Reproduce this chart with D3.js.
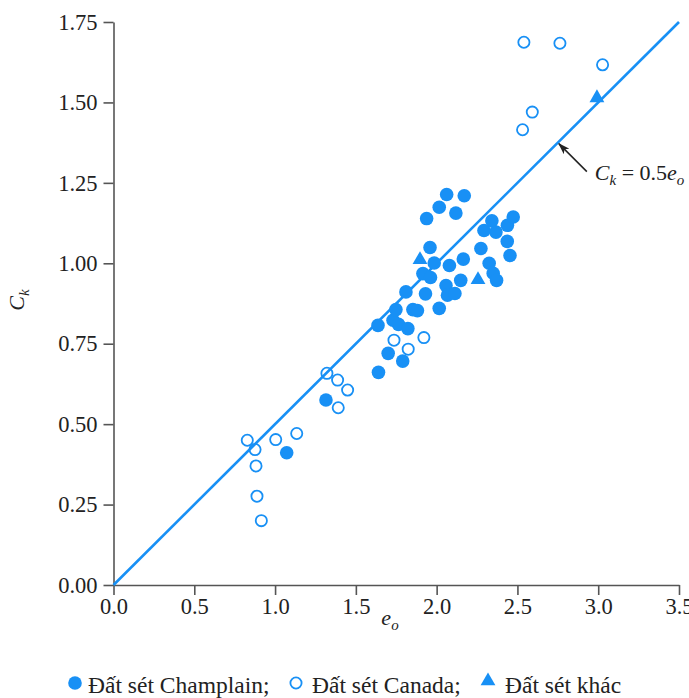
<!DOCTYPE html>
<html>
<head>
<meta charset="utf-8">
<script src="https://cdn.jsdelivr.net/npm/d3@7"></script>
<style>
  html, body { margin: 0; padding: 0; background: #fff; }
  svg { display: block; }
  text { font-family: "Liberation Serif", "Times New Roman", serif; fill: #222; }
</style>
</head>
<body>
<svg id="chart" width="689" height="698"></svg>
<script>
// Compression index Ck against initial void ratio eo
const champlain = [
  [1.072, 0.411], [1.315, 0.575], [1.640, 0.661], [1.700, 0.720], [1.790, 0.696],
  [1.637, 0.807], [1.730, 0.823], [1.764, 0.810], [1.822, 0.797], [1.748, 0.856],
  [1.853, 0.856], [1.881, 0.853], [2.016, 0.860], [1.810, 0.911], [1.931, 0.905],
  [2.058, 0.931], [2.067, 0.901], [2.113, 0.906], [2.149, 0.947], [1.915, 0.968],
  [1.962, 0.956], [1.985, 1.001], [2.079, 0.993], [2.165, 1.013], [1.959, 1.049],
  [1.938, 1.139], [2.016, 1.174], [2.119, 1.156], [2.062, 1.214], [2.171, 1.210],
  [2.274, 1.046], [2.293, 1.102], [2.342, 1.132], [2.367, 1.097], [2.438, 1.118],
  [2.474, 1.144], [2.437, 1.068], [2.454, 1.024], [2.325, 1.000], [2.350, 0.969],
  [2.371, 0.947]
];
const canada = [
  [2.540, 1.687], [2.763, 1.684], [3.027, 1.617], [2.592, 1.470], [2.532, 1.415],
  [1.321, 0.658], [1.387, 0.637], [1.449, 0.606], [1.391, 0.551], [0.828, 0.450],
  [0.876, 0.421], [1.004, 0.452], [1.134, 0.471], [0.882, 0.370], [0.888, 0.276],
  [0.915, 0.200], [1.736, 0.761], [1.824, 0.733], [1.921, 0.769]
];
const otherClays = [[1.897, 1.011], [2.256, 0.949], [2.992, 1.514]];

// Reference relation Ck = 0.5 eo
const slope = 0.5;
const lineEo = [0, 3.5];
const labelEo = 2.75;

const xTicks = [0, 0.5, 1.0, 1.5, 2.0, 2.5, 3.0, 3.5];
const yTicks = [0, 0.25, 0.5, 0.75, 1.0, 1.25, 1.5, 1.75];
const legendLabels = ["Đất sét Champlain;", "Đất sét Canada;", "Đất sét khác"];

const blue = "#1890f5";
const axisColor = "#555";

const svg = d3.select("#chart");
const x = d3.scaleLinear().domain([0, 3.5]).range([113.5, 679]);
const y = d3.scaleLinear().domain([0, 1.75]).range([585, 22]);

// Axes
const xAxis = svg.append("g")
  .attr("transform", `translate(0,${y(0)})`)
  .call(d3.axisBottom(x).tickValues(xTicks).tickFormat(d3.format(".1f"))
    .tickSize(10).tickSizeOuter(0).tickPadding(3));
const yAxis = svg.append("g")
  .attr("transform", `translate(${x(0)},0)`)
  .call(d3.axisLeft(y).tickValues(yTicks).tickFormat(d3.format(".2f"))
    .tickSize(10).tickSizeOuter(0).tickPadding(6));
[xAxis, yAxis].forEach(g => {
  g.select(".domain").attr("stroke", axisColor).attr("stroke-width", 1.6);
  g.selectAll(".tick line").attr("stroke", axisColor).attr("stroke-width", 1.6);
  g.selectAll(".tick text")
    .style("font-family", '"Liberation Serif", serif')
    .style("font-size", "22.5px").attr("fill", "#222");
});

// Axis titles
svg.append("text")
  .attr("x", 390).attr("y", 625)
  .attr("text-anchor", "middle")
  .style("font-size", "22px").style("font-style", "italic")
  .call(t => {
    t.append("tspan").text("e");
    t.append("tspan").attr("dy", 5).style("font-size", "15px").text("o");
  });
svg.append("text")
  .attr("transform", "translate(24,300) rotate(-90)")
  .attr("text-anchor", "middle")
  .style("font-size", "22px").style("font-style", "italic")
  .call(t => {
    t.append("tspan").text("C");
    t.append("tspan").attr("dy", 5).style("font-size", "15px").text("k");
  });

// Reference line
svg.append("line")
  .attr("x1", x(lineEo[0])).attr("y1", y(slope * lineEo[0]))
  .attr("x2", x(lineEo[1])).attr("y2", y(slope * lineEo[1]))
  .attr("stroke", blue).attr("stroke-width", 2.6);

// Points
const triPath = d3.symbol().type(d3.symbolTriangle).size(95);

svg.append("g").selectAll("circle").data(champlain).join("circle")
  .attr("cx", d => x(d[0])).attr("cy", d => y(d[1]))
  .attr("r", 6.8).attr("fill", blue);

svg.append("g").selectAll("circle").data(canada).join("circle")
  .attr("cx", d => x(d[0])).attr("cy", d => y(d[1]))
  .attr("r", 5.6).attr("fill", "none").attr("stroke", blue).attr("stroke-width", 1.8);

svg.append("g").selectAll("path").data(otherClays).join("path")
  .attr("transform", d => `translate(${x(d[0])},${y(d[1])})`)
  .attr("d", triPath).attr("fill", blue);

// Annotation arrow for the reference line
svg.append("defs").append("marker")
  .attr("id", "arrowhead")
  .attr("viewBox", "0 0 12 8").attr("refX", 11).attr("refY", 4)
  .attr("markerWidth", 12).attr("markerHeight", 8)
  .attr("markerUnits", "userSpaceOnUse").attr("orient", "auto")
  .append("path").attr("d", "M0,0 L12,4 L0,8 L3,4 Z").attr("fill", "#222");

const tipX = x(labelEo), tipY = y(slope * labelEo);
svg.append("line")
  .attr("x1", tipX + 29).attr("y1", tipY + 29)
  .attr("x2", tipX + 1).attr("y2", tipY + 1)
  .attr("stroke", "#222").attr("stroke-width", 1.5)
  .attr("marker-end", "url(#arrowhead)");

svg.append("text")
  .attr("x", tipX + 37).attr("y", tipY + 37)
  .style("font-size", "22px")
  .call(t => {
    t.append("tspan").style("font-style", "italic").text("C");
    t.append("tspan").attr("dy", 5).style("font-size", "15px").style("font-style", "italic").text("k");
    t.append("tspan").attr("dy", -5).text(" = 0.5");
    t.append("tspan").style("font-style", "italic").text("e");
    t.append("tspan").attr("dy", 5).style("font-size", "15px").style("font-style", "italic").text("o");
  });

// Legend
const legendY = 683;
const legend = svg.append("g");
legend.append("circle").attr("cx", 75).attr("cy", legendY).attr("r", 6.8).attr("fill", blue);
legend.append("circle").attr("cx", 296).attr("cy", legendY).attr("r", 5.6)
  .attr("fill", "none").attr("stroke", blue).attr("stroke-width", 1.8);
legend.append("path").attr("transform", `translate(488,${legendY - 2})`)
  .attr("d", triPath).attr("fill", blue);
[[88, legendLabels[0]], [312, legendLabels[1]], [505, legendLabels[2]]].forEach(([lx, label]) => {
  legend.append("text").attr("x", lx).attr("y", legendY + 10)
    .style("font-size", "23.5px").text(label);
});
</script>
</body>
</html>
